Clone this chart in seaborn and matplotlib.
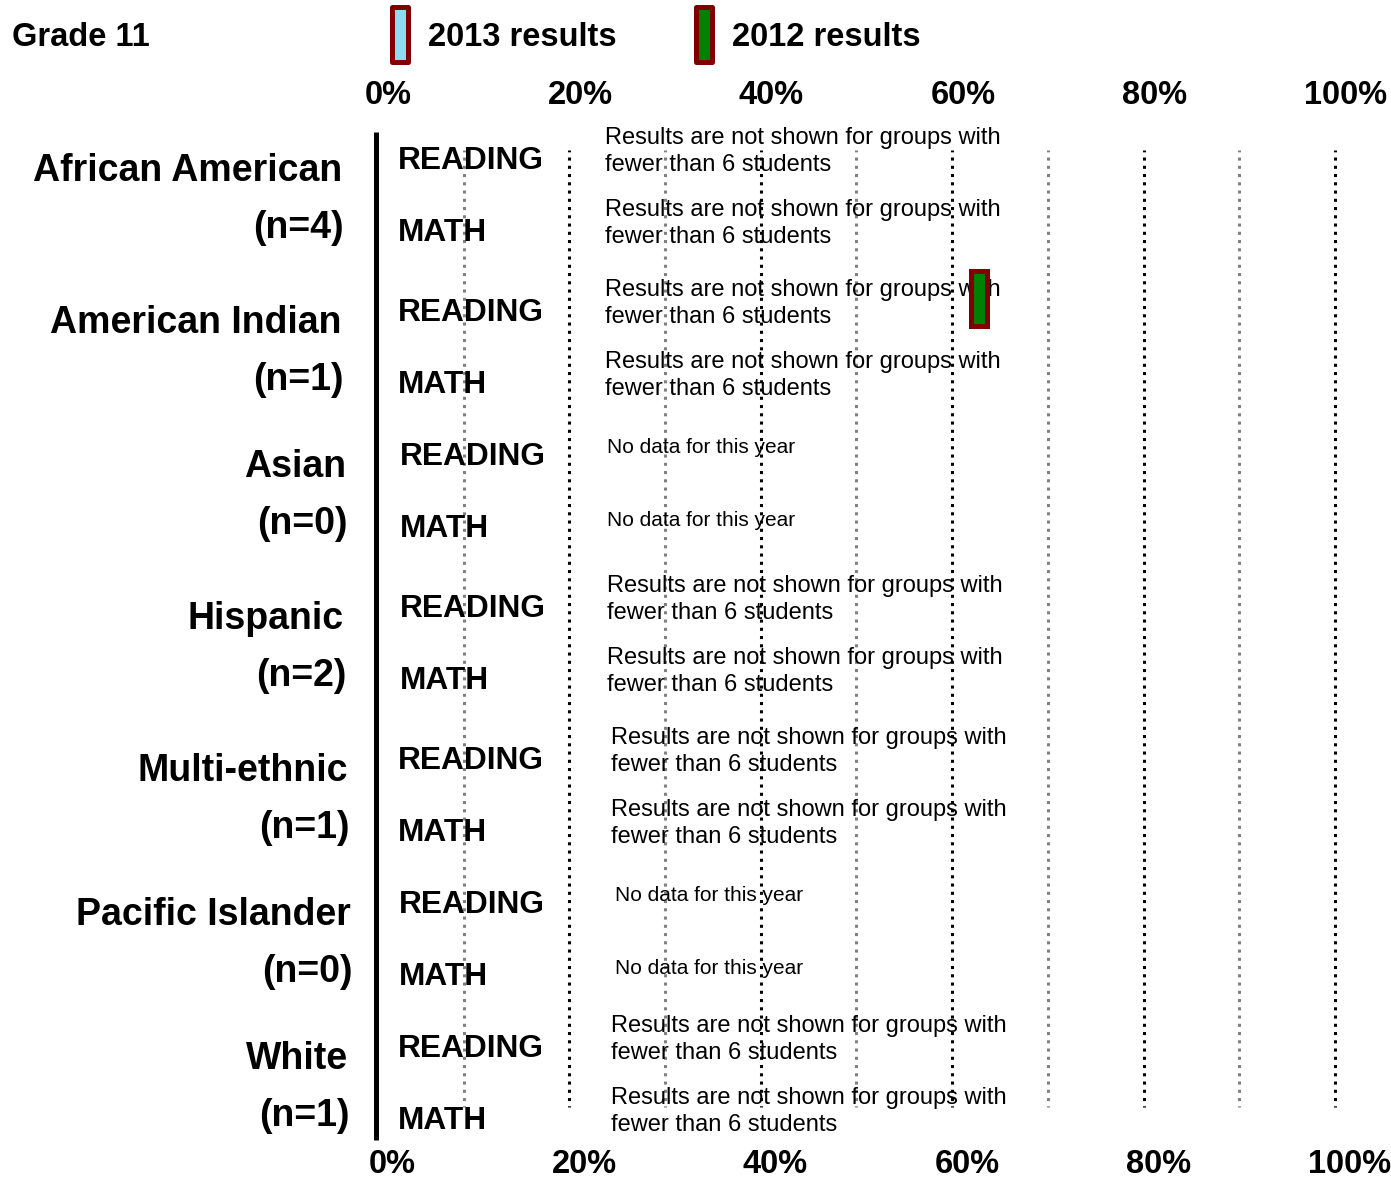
import numpy as np
import pandas as pd
import matplotlib
matplotlib.use("Agg")
import matplotlib.pyplot as plt
import seaborn as sns
from matplotlib.path import Path
from matplotlib.markers import MarkerStyle
from matplotlib.lines import Line2D
from matplotlib.transforms import ScaledTranslation
from matplotlib import font_manager

# ---------------- data ----------------
title = "Grade 11"
series_names = ["2013 results", "2012 results"]
groups = ["African American", "American Indian", "Asian", "Hispanic",
          "Multi-ethnic", "Pacific Islander", "White"]
n_counts = [4, 1, 0, 2, 1, 0, 1]
subjects = ["READING", "MATH"]
reading_2013 = [np.nan, np.nan, np.nan, np.nan, np.nan, np.nan, np.nan]
math_2013 = [np.nan, np.nan, np.nan, np.nan, np.nan, np.nan, np.nan]
reading_2012 = [np.nan, 62.8, np.nan, np.nan, np.nan, np.nan, np.nan]
math_2012 = [np.nan, np.nan, np.nan, np.nan, np.nan, np.nan, np.nan]
tick_values = [0, 20, 40, 60, 80, 100]
tick_labels = ["0%", "20%", "40%", "60%", "80%", "100%"]
msg_small = "Results are not shown for groups with\nfewer than 6 students"
msg_none = "No data for this year"

# ---------------- style ----------------
sns.set_theme(style="white")
plt.rcParams["font.family"] = ["Liberation Sans", "DejaVu Sans"]
plt.rcParams["text.color"] = "black"

# narrow bold font if available, otherwise regular bold at a smaller size
try:
    font_manager.findfont(font_manager.FontProperties(family="Liberation Sans Narrow"),
                          fallback_to_default=False)
    NARROW = ["Liberation Sans Narrow", "Liberation Sans", "DejaVu Sans"]
    NSIZE = 27.5
except Exception:
    NARROW = ["Liberation Sans", "DejaVu Sans"]
    NSIZE = 23.5
NPX = NSIZE * 100 / 72.0

COL_2013 = "#8CDDF2"
COL_2012 = "#008000"
COL_EDGE = "#800000"

W, H = 1391, 1180
fig = plt.figure(figsize=(W / 100, H / 100), dpi=100)
fig.patch.set_facecolor("white")

X0, X100 = 377.5, 1335.0
ROW0, ROWSTEP = 157.0, 74.0
AX_TOP, AX_BOT = 150.0, 1107.0
ax = fig.add_axes([X0 / W, 1 - AX_BOT / H, (X100 - X0) / W, (AX_BOT - AX_TOP) / H])
ax.set_facecolor("white")

def px2x(px):
    return (px - X0) / (X100 - X0) * 100.0

def px2row(py):
    return (py - ROW0) / ROWSTEP

# row layout: two subject rows per group
GROUP_STEP = 2.0
SUBJ_STEP = 0.98
grp_shift_px = [0, 4, 0, 4, 8, 4, 0]

rows = []
for gi, g in enumerate(groups):
    for si, s in enumerate(subjects):
        rows.append(dict(group=g, n=n_counts[gi], subject=s,
                         ypos=gi * GROUP_STEP + si * SUBJ_STEP + grp_shift_px[gi] / ROWSTEP,
                         r2013=(reading_2013 if si == 0 else math_2013)[gi],
                         r2012=(reading_2012 if si == 0 else math_2012)[gi]))
df = pd.DataFrame(rows)

ax.set_xlim(0, 100)
ax.set_ylim(px2row(AX_BOT), px2row(AX_TOP))
for sp in ax.spines.values():
    sp.set_visible(False)
ax.set_yticks([])

# grid lines
dot = (0.6, (1, 1.7))
for v in [20, 40, 60, 80, 100]:
    ax.axvline(v, color="black", lw=2.2, linestyle=dot, dash_capstyle="butt",
               zorder=1, clip_on=False)
for v in [9, 30, 50, 70, 90]:
    ax.axvline(v, color="#808080", lw=2.2, linestyle=dot, dash_capstyle="butt",
               zorder=1, clip_on=False)
# axis line at 0
ax.vlines(px2x(375.5), px2row(132), px2row(1140), color="black", lw=3.6,
          clip_on=False, zorder=3)

# marker for results
verts = np.array([[-0.309, -1], [0.309, -1], [0.309, 1], [-0.309, 1], [-0.309, -1]])
codes = [Path.MOVETO, Path.LINETO, Path.LINETO, Path.LINETO, Path.CLOSEPOLY]
rect_path = Path(verts, codes)
mstyle = MarkerStyle(rect_path, joinstyle="miter")
MSIZE = 39.6
EW = 3.6

DODGE = 0.15
df["y2012"] = df["ypos"] - DODGE
df["y2013"] = df["ypos"] + DODGE
d12 = df.dropna(subset=["r2012"])
sns.scatterplot(data=d12, x="r2012", y="y2012", marker=mstyle, s=MSIZE ** 2,
                color=COL_2012, edgecolor=COL_EDGE, linewidth=EW, ax=ax,
                zorder=5, legend=False, clip_on=False)
d13 = df.dropna(subset=["r2013"])
if len(d13):
    sns.scatterplot(data=d13, x="r2013", y="y2013", marker=mstyle, s=MSIZE ** 2,
                    color=COL_2013, edgecolor=COL_EDGE, linewidth=EW, ax=ax,
                    zorder=5, legend=False, clip_on=False)
for c in ax.collections:
    try:
        c.set_joinstyle("miter")
    except Exception:
        pass
ax.set_xlabel("")
ax.set_ylabel("")
ax.set_xlim(0, 100)
ax.set_ylim(px2row(AX_BOT), px2row(AX_TOP))

# ticks top and bottom
ax.set_xticks(tick_values)
ax.set_xticklabels(tick_labels)
top_pad_px = (AX_TOP - 92) - 0.358 * NPX - 0.212 * NPX
ax.tick_params(axis="x", length=0, top=True, labeltop=True, bottom=True,
               labelbottom=True, pad=top_pad_px * 0.72)
bot_extra_px = (1161 - 0.358 * NPX - AX_BOT) - top_pad_px - (0.73 - 0.716) * NPX
for t in ax.xaxis.get_major_ticks():
    for lab in (t.label1, t.label2):
        lab.set_fontfamily(NARROW)
        lab.set_fontweight("bold")
        lab.set_fontsize(NSIZE)
        lab.set_color("black")
    t.label1.set_transform(t.label1.get_transform() +
                           ScaledTranslation(15 / 100, -bot_extra_px / 100, fig.dpi_scale_trans))
    t.label2.set_transform(t.label2.get_transform() +
                           ScaledTranslation(11 / 100, 0, fig.dpi_scale_trans))

# layout lists (pixel positions)
grp_right_px = [342, 342, 346, 344, 348, 351, 348]
subj_left_px = [398, 398, 400, 400, 398, 399, 398]
msg_left_px = [605, 605, 607, 607, 611, 615, 611]

for gi, g in enumerate(groups):
    sub = df[df["group"] == g]
    y_read = sub["ypos"].iloc[0]
    y_math = sub["ypos"].iloc[1]
    ax.text(px2x(grp_right_px[gi]), y_read + 0.19, g, ha="right", va="center",
            fontsize=27, fontweight="bold", color="black", clip_on=False)
    ax.text(px2x(grp_right_px[gi] + 2), y_math - 0.02, f"(n={n_counts[gi]})",
            ha="right", va="center", fontsize=27, fontweight="bold",
            color="black", clip_on=False)
    for si, s in enumerate(subjects):
        r = sub["ypos"].iloc[si]
        ax.text(px2x(subj_left_px[gi]), r + 0.05, s, ha="left", va="center",
                fontsize=22.8, fontweight="bold", color="black", clip_on=False, zorder=4)
        if n_counts[gi] == 0:
            ax.text(px2x(msg_left_px[gi]), r - 0.07, msg_none, ha="left", va="center",
                    fontsize=15, color="black", clip_on=False, zorder=4)
        else:
            ax.text(px2x(msg_left_px[gi]), r - 0.08, msg_small, ha="left", va="center",
                    fontsize=17, color="black", linespacing=1.3, clip_on=False, zorder=4)

# title
fig.text(12 / W, 1 - 37 / H, title, ha="left", va="center", fontfamily=NARROW,
         fontweight="bold", fontsize=NSIZE, color="black")

# legend
handles = [Line2D([], [], linestyle="none", marker=mstyle, markersize=MSIZE,
                  markerfacecolor=COL_2013, markeredgecolor=COL_EDGE, markeredgewidth=EW),
           Line2D([], [], linestyle="none", marker=mstyle, markersize=MSIZE,
                  markerfacecolor=COL_2012, markeredgecolor=COL_EDGE, markeredgewidth=EW)]
leg_x = 400 - 0.5 * NPX
text_w = 5.781 * NPX
col_sp = ((704 - 0.5 * NPX) - (428 + text_w)) / NPX
leg = fig.legend(handles, series_names, loc="center left",
                 bbox_to_anchor=(leg_x / W, 1 - 37 / H), bbox_transform=fig.transFigure,
                 ncol=2, frameon=False, handlelength=1.0,
                 handletextpad=(428 - (400 + 0.5 * NPX)) / NPX,
                 columnspacing=col_sp, borderpad=0, borderaxespad=0,
                 labelcolor="black",
                 prop=dict(family=NARROW, weight="bold", size=NSIZE))

fig.savefig("out.png", dpi=100, facecolor="white")
